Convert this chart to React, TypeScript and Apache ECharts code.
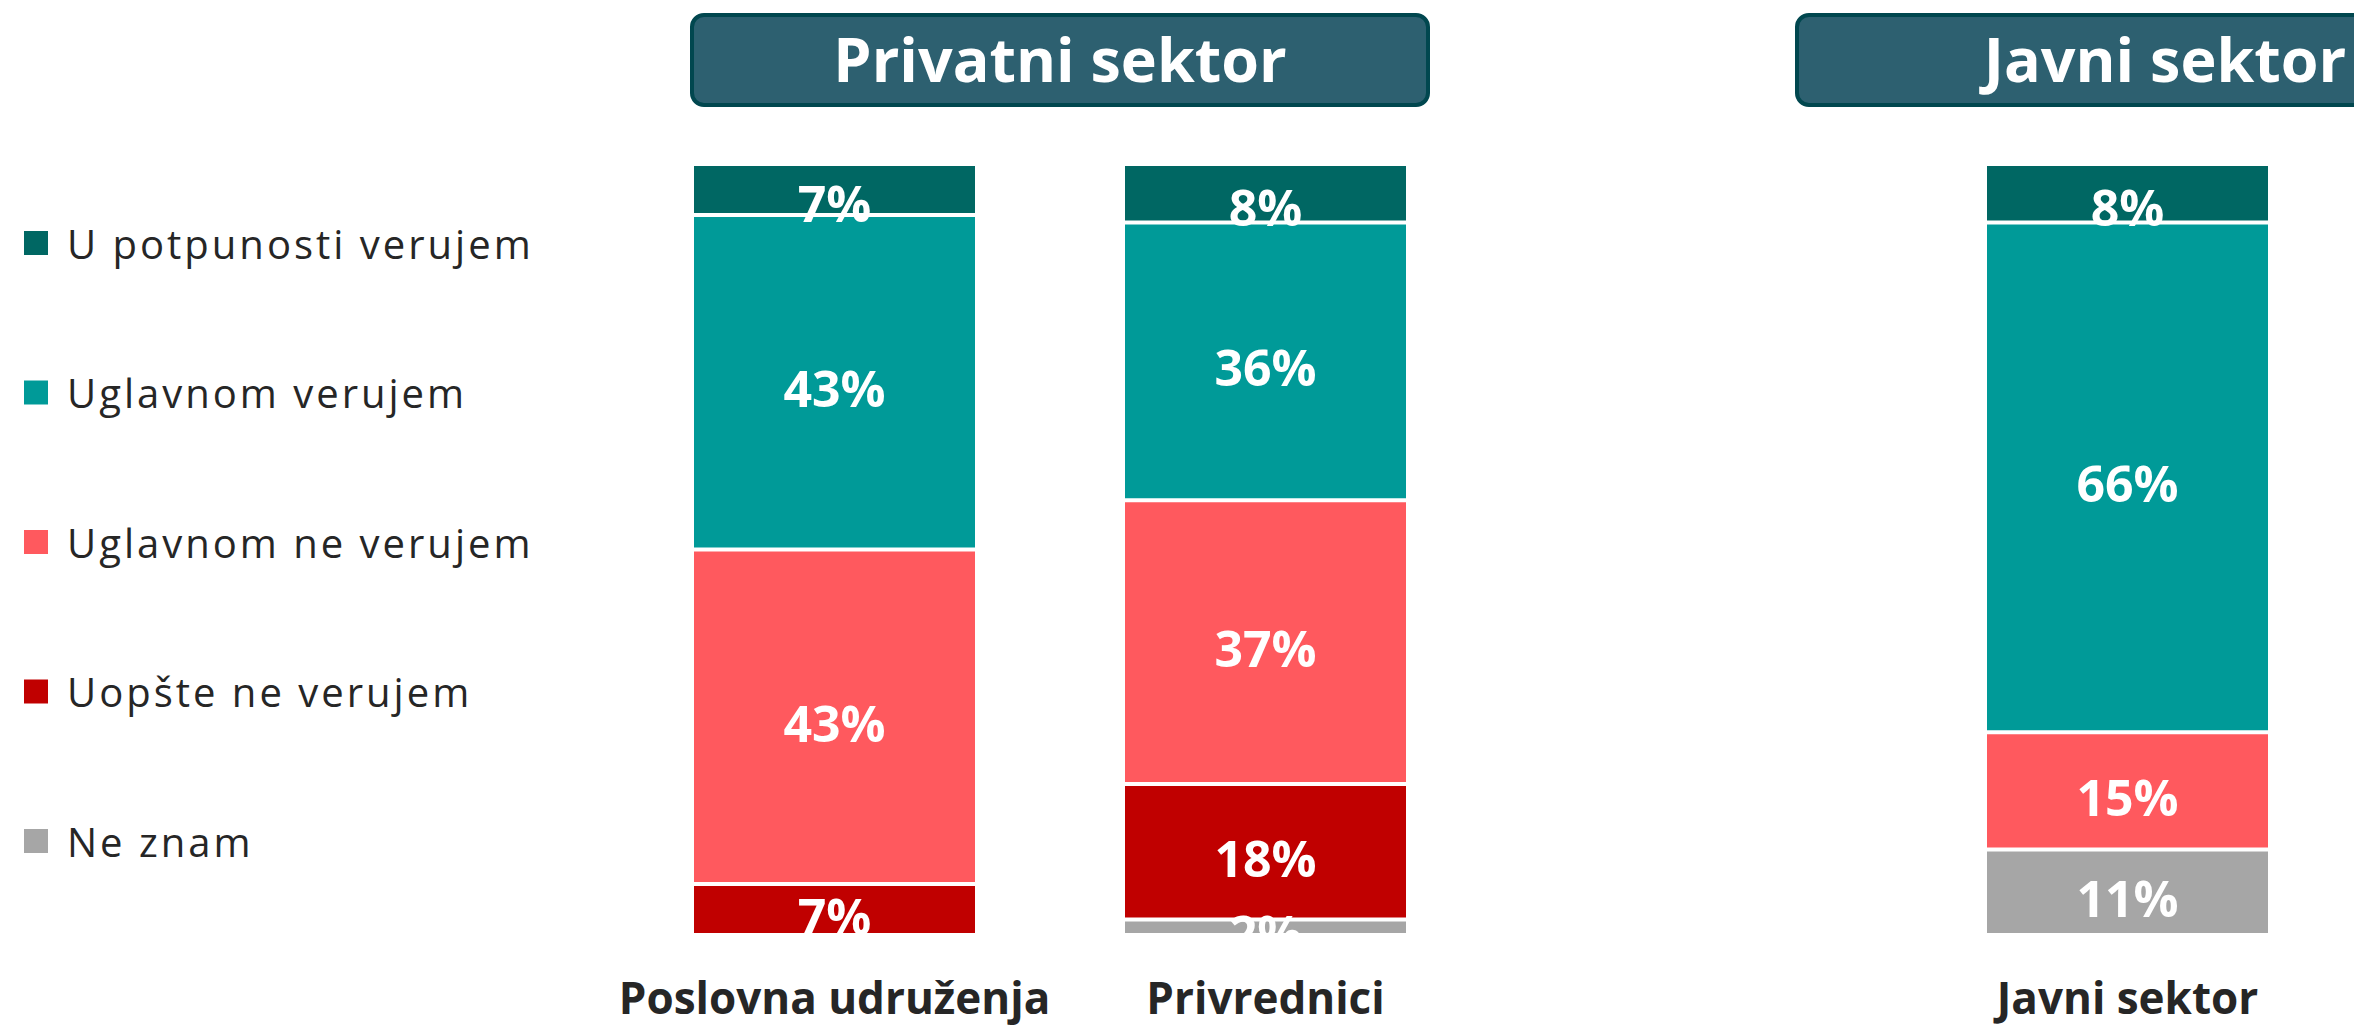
import React, { useEffect, useRef } from 'react';
import * as echarts from 'echarts';

// ---- data ----
const privateCategories = ['Poslovna udruženja', 'Privrednici'];
const publicCategories = ['Javni sektor'];
const panelTitles = ['Privatni sektor', 'Javni sektor'];
const seriesNames = [
  'U potpunosti verujem',
  'Uglavnom verujem',
  'Uglavnom ne verujem',
  'Uopšte ne verujem',
  'Ne znam',
];
const seriesColors = ['#006763', '#009A98', '#FF595E', '#C00000', '#A6A6A6'];

// values per series: [Poslovna udruženja, Privrednici]
const potpunoPrivate = [6.6, 7.6];
const uglavnomPrivate = [43.4, 36.0];
const uglavnomNePrivate = [43.4, 36.8];
const uopsteNePrivate = [6.6, 17.6];
const neZnamPrivate = [null, 2.0];
// values per series: [Javni sektor]
const potpunoPublic = [7.6];
const uglavnomPublic = [66.1];
const uglavnomNePublic = [15.2];
const uopsteNePublic = [null];
const neZnamPublic = [11.1];

const privateValues = [potpunoPrivate, uglavnomPrivate, uglavnomNePrivate, uopsteNePrivate, neZnamPrivate];
const publicValues = [potpunoPublic, uglavnomPublic, uglavnomNePublic, uopsteNePublic, neZnamPublic];

const FONT = '"Open Sans", "Noto Sans", sans-serif';

export default function App() {
  const ref = useRef<HTMLDivElement>(null);

  useEffect(() => {
    if (!ref.current) return;
    const chart = echarts.init(ref.current, null, { renderer: 'svg' });

    const stackOrder = [4, 3, 2, 1, 0];
    const series: any[] = [];
    [privateValues, publicValues].forEach((vals, gi) => {
      stackOrder.forEach((i) => {
        series.push({
          type: 'bar',
          name: seriesNames[i],
          stack: 'g' + gi,
          xAxisIndex: gi,
          yAxisIndex: gi,
          barWidth: 285,
          data: vals[i].map((v) => (v == null ? '-' : v)),
          itemStyle: { color: seriesColors[i], borderColor: '#ffffff', borderWidth: 2 },
          label: {
            show: true,
            position: 'inside',
            color: '#ffffff',
            fontFamily: FONT,
            fontSize: 50,
            fontWeight: 'bold',
            offset: [0, i === 0 ? 14 : 6],
            formatter: (p: any) => Math.round(p.value) + '%',
          },
        });
      });
    });

    const axisLabel = {
      interval: 0,
      margin: 40,
      fontFamily: FONT,
      fontSize: 44,
      lineHeight: 44,
      fontWeight: 'bold',
      color: '#262626',
    };

    const boxes = [
      { x: 692, w: 736 },
      { x: 1797, w: 736 },
    ];
    const graphic: any[] = [];
    boxes.forEach((b, k) => {
      graphic.push({
        type: 'rect',
        shape: { x: b.x, y: 15, width: b.w, height: 90, r: 12 },
        style: { fill: '#2D6070', stroke: '#01474F', lineWidth: 4 },
        silent: true,
      });
      graphic.push({
        type: 'text',
        x: b.x + b.w / 2,
        y: 58,
        style: {
          text: panelTitles[k],
          fill: '#ffffff',
          font: 'bold 61px "Open Sans", sans-serif',
          align: 'center',
          verticalAlign: 'middle',
        },
        silent: true,
      });
    });

    chart.setOption({
      animation: false,
      backgroundColor: '#ffffff',
      grid: [
        { left: 619, top: 164, width: 862, height: 771 },
        { left: 1912, top: 164, width: 431, height: 771 },
      ],
      xAxis: [
        {
          type: 'category',
          gridIndex: 0,
          data: privateCategories,
          axisLine: { show: false },
          axisTick: { show: false },
          axisLabel,
        },
        {
          type: 'category',
          gridIndex: 1,
          data: publicCategories,
          axisLine: { show: false },
          axisTick: { show: false },
          axisLabel,
        },
      ],
      yAxis: [
        { type: 'value', gridIndex: 0, min: 0, max: 100, show: false },
        { type: 'value', gridIndex: 1, min: 0, max: 100, show: false },
      ],
      legend: {
        orient: 'vertical',
        left: 24,
        top: 223,
        padding: 0,
        itemGap: 109.5,
        itemWidth: 24,
        itemHeight: 24,
        icon: 'rect',
        selectedMode: false,
        data: seriesNames,
        itemStyle: { borderWidth: 0 },
        textStyle: {
          fontFamily: FONT,
          fontSize: 40,
          color: '#262626',
          lineHeight: 40,
          padding: [0, 0, 0, 14],
        },
      },
      graphic,
      series,
    });

    return () => chart.dispose();
  }, []);

  return (
    <>
      <style>{`.chart-root svg text[style*="40px"]{letter-spacing:3px;}`}</style>
      <div
        ref={ref}
        className="chart-root"
        style={{ position: 'fixed', left: 0, top: 0, width: 2354, height: 1029 }}
      />
    </>
  );
}
